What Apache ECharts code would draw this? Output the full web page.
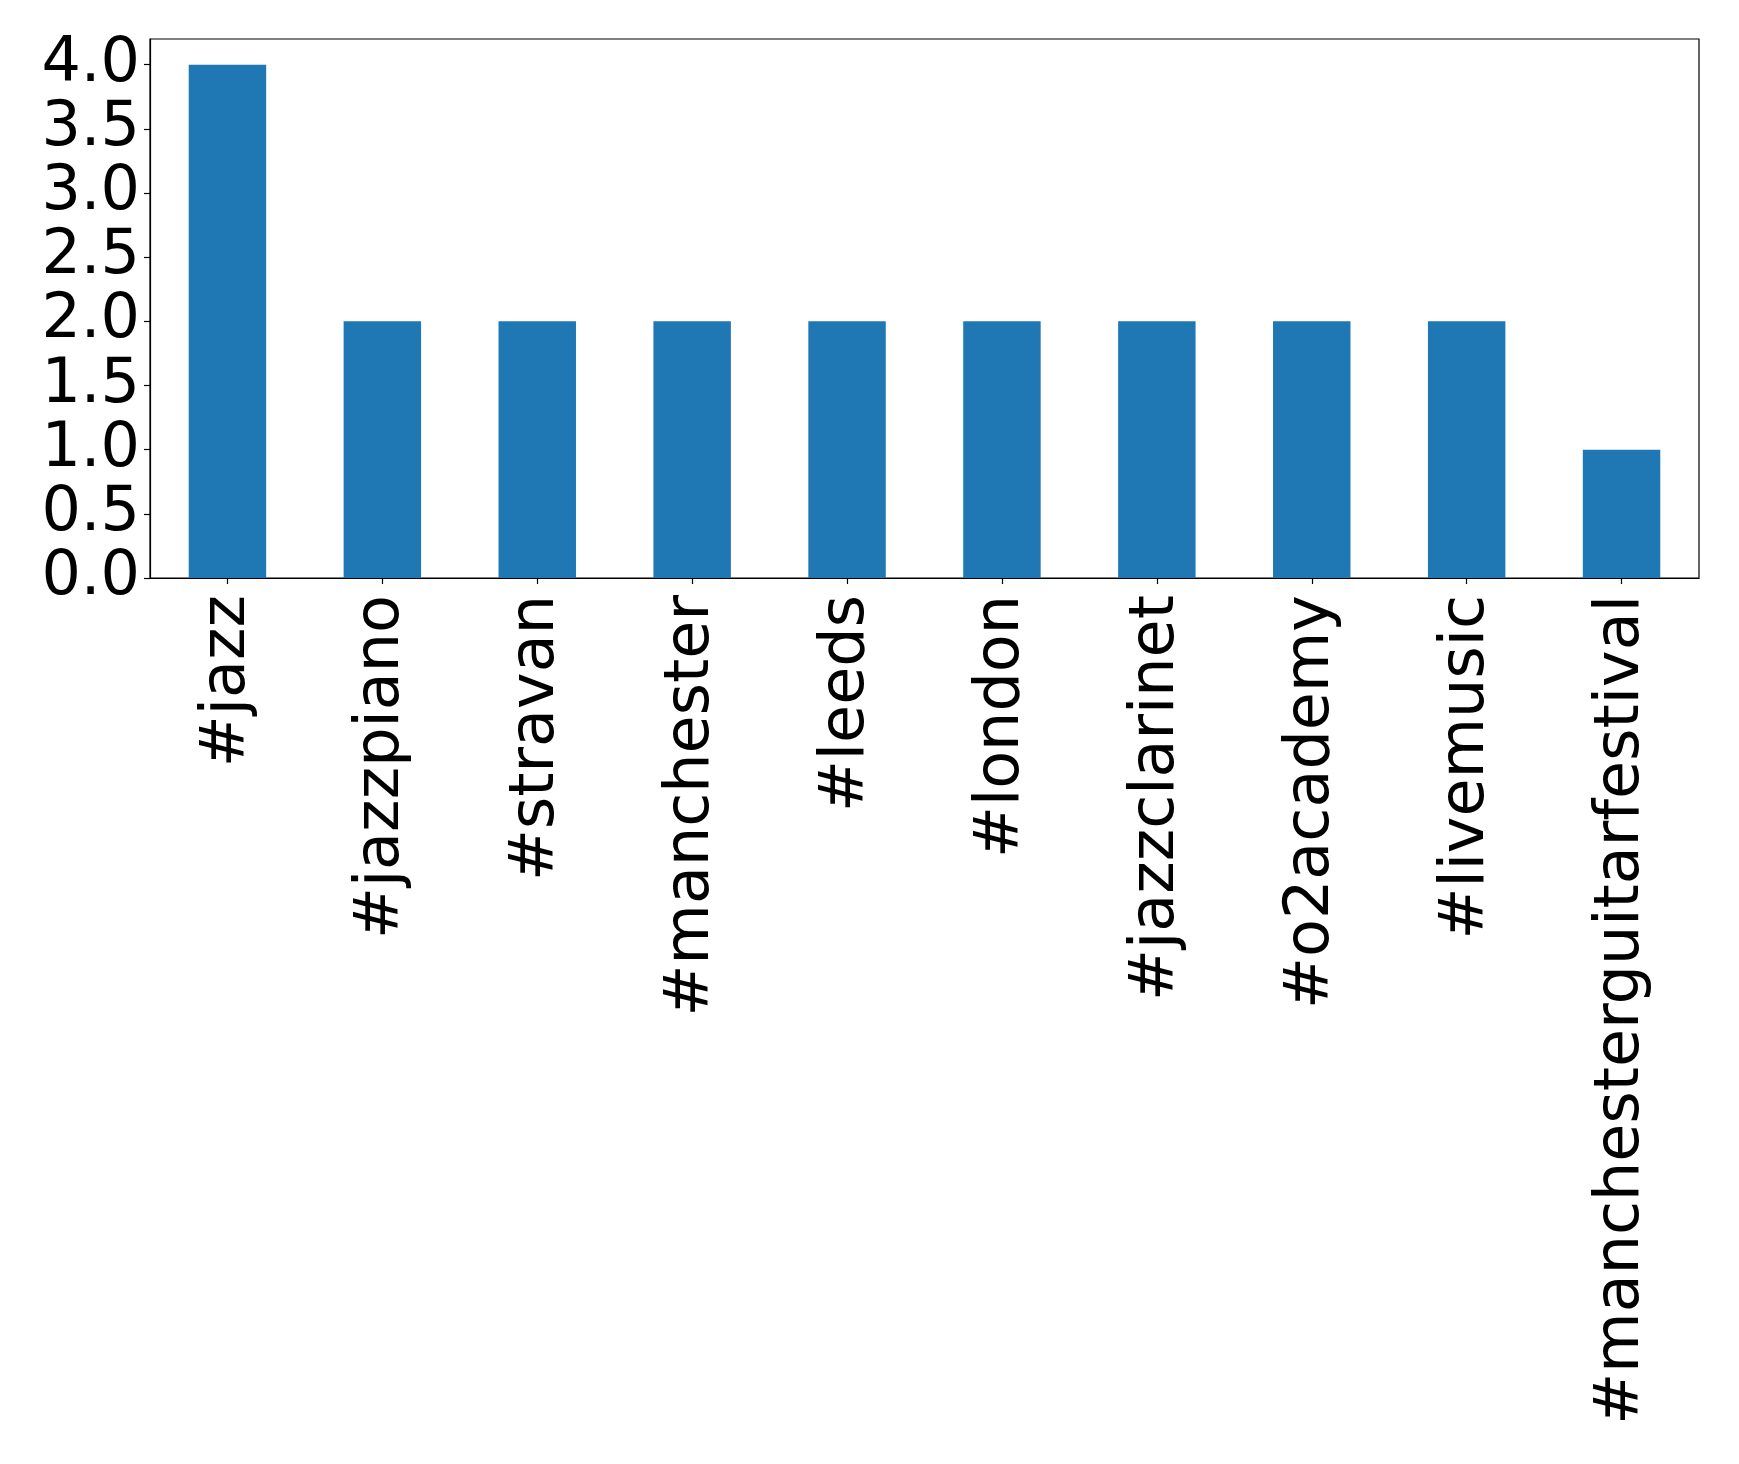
<!DOCTYPE html>
<html>
<head>
<meta charset="utf-8">
<script src="https://cdn.jsdelivr.net/npm/echarts@6/dist/echarts.min.js"></script>
<style>html,body{margin:0;padding:0;background:#fff}#c{width:1739px;height:1464px}</style>
</head>
<body>
<div id="c"></div>
<script>
const categories = ['#jazz','#jazzpiano','#stravan','#manchester','#leeds','#london','#jazzclarinet','#o2academy','#livemusic','#manchesterguitarfestival'];
const counts = [4,2,2,2,2,2,2,2,2,1];
const yTicks = [0,0.5,1,1.5,2,2.5,3,3.5,4];

const chart = echarts.init(document.getElementById('c'), null, {renderer:'canvas'});
const font = 'DejaVu Sans';
chart.setOption({
  animation:false,
  backgroundColor:'#fff',
  grid:{left:150,right:40,top:39,bottom:886,show:true,borderColor:'#000',borderWidth:1.2,backgroundColor:'transparent'},
  xAxis:{
    type:'category',data:categories,
    axisLine:{show:true,lineStyle:{color:'#000',width:1.2}},
    axisTick:{show:true,alignWithLabel:true,length:6,lineStyle:{color:'#000',width:1.2}},
    axisLabel:{rotate:90,margin:17,fontFamily:font,fontSize:62,color:'#000',interval:0}
  },
  yAxis:{
    type:'value',min:0,max:4.2,interval:0.5,
    splitLine:{show:false},
    axisLine:{show:true,lineStyle:{color:'#000',width:1.2}},
    axisTick:{show:true,length:6,lineStyle:{color:'#000',width:1.2},customValues:yTicks},
    axisLabel:{margin:10,fontFamily:font,fontSize:62,color:'#000',customValues:yTicks,formatter:v=>Number(v).toFixed(1)}
  },
  series:[{type:'bar',data:counts,barWidth:'50%',itemStyle:{color:'#1f77b4'}}]
});
</script>
</body>
</html>
